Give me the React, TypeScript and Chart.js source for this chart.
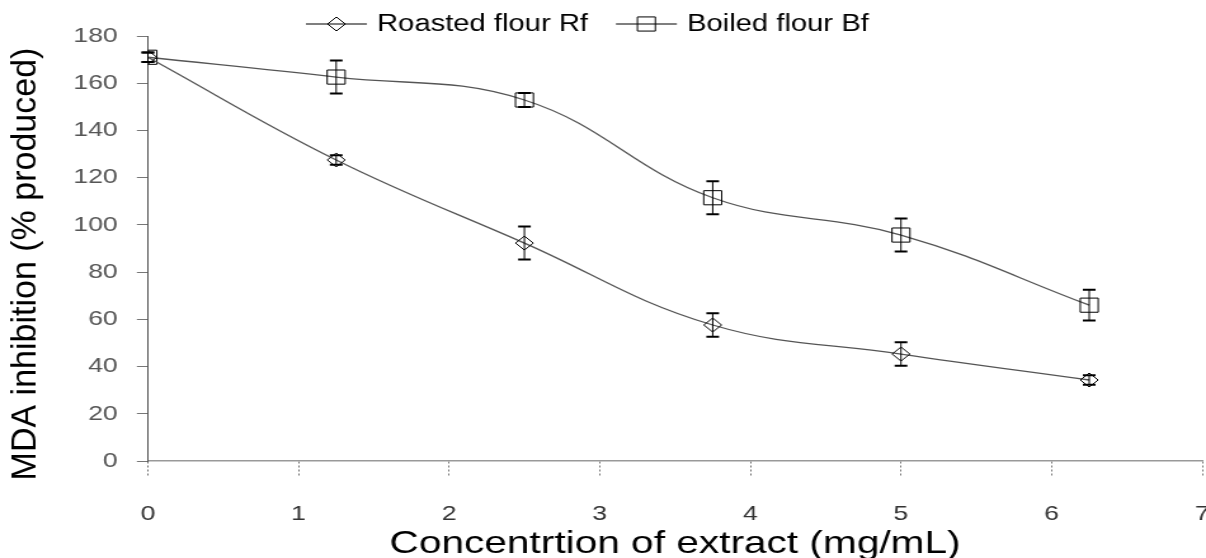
import React, { useEffect, useRef } from 'react';
import { Chart, registerables } from 'chart.js';

Chart.register(...registerables);

// ---- data ----
const concentrations = [0, 1.25, 2.5, 3.75, 5, 6.25];
const roastedFlour = [171, 127.5, 92.3, 57.6, 45.3, 34.3];
const roastedErr = [2, 2, 7, 5, 5, 2];
const boiledFlour = [171, 162.6, 152.9, 111.5, 95.7, 66];
const boiledErr = [2, 7, 3, 7, 7, 6.5];
const seriesNames = ['Roasted flour Rf', 'Boiled flour Bf'];
const seriesMarkers = ['rectRot', 'rect'];
const xTitle = 'Concentrtion of extract (mg/mL)';
const yTitle = 'MDA inhibition (% produced)';
const xRange = [0, 7];
const xStep = 1;
const yRange = [0, 180];
const yStep = 20;

// ---- layout / style ----
const VIEW_W = 1206;
const VIEW_H = 558;
const STRETCH = 1.27;
const CANVAS_W = Math.round(VIEW_W / STRETCH);
const FONT = '"Liberation Sans", Arial, sans-serif';
const LINE_COLOR = '#555555';

function drawMarker(ctx: CanvasRenderingContext2D, style: string, cx: number, cy: number, r: number) {
  ctx.beginPath();
  if (style === 'rectRot') {
    ctx.moveTo(cx - r, cy);
    ctx.lineTo(cx, cy - r);
    ctx.lineTo(cx + r, cy);
    ctx.lineTo(cx, cy + r);
    ctx.closePath();
  } else {
    const s = r * Math.SQRT1_2;
    ctx.rect(cx - s, cy - s, 2 * s, 2 * s);
  }
  ctx.stroke();
}

const errorBarPlugin = {
  id: 'errorBars',
  afterDatasetsDraw(chart: any) {
    const { ctx } = chart;
    const yScale = chart.scales.y;
    ctx.save();
    ctx.strokeStyle = '#000';
    chart.data.datasets.forEach((ds: any, i: number) => {
      const meta = chart.getDatasetMeta(i);
      meta.data.forEach((pt: any, j: number) => {
        const v = ds.data[j].y;
        const e = ds.errors[j];
        const yt = yScale.getPixelForValue(v + e);
        const yb = yScale.getPixelForValue(v - e);
        const x = pt.x;
        ctx.lineWidth = 1;
        ctx.beginPath();
        ctx.moveTo(x, yt);
        ctx.lineTo(x, yb);
        ctx.stroke();
        ctx.lineWidth = 2;
        ctx.beginPath();
        ctx.moveTo(x - 5, yt);
        ctx.lineTo(x + 5, yt);
        ctx.moveTo(x - 5, yb);
        ctx.lineTo(x + 5, yb);
        ctx.stroke();
      });
    });
    ctx.restore();
  },
};

const legendPlugin = {
  id: 'lineLegend',
  afterDraw(chart: any) {
    const { ctx } = chart;
    ctx.save();
    ctx.font = `23px ${FONT}`;
    ctx.textBaseline = 'middle';
    ctx.textAlign = 'left';
    const y = 24;
    let x = 241;
    chart.data.datasets.forEach((ds: any) => {
      ctx.strokeStyle = '#000';
      ctx.lineWidth = 1.2;
      ctx.beginPath();
      ctx.moveTo(x, y);
      ctx.lineTo(x + 48, y);
      ctx.stroke();
      ctx.lineWidth = 1;
      drawMarker(ctx, ds.pointStyle, x + 24, y, ds.pointRadius);
      ctx.fillStyle = '#000';
      ctx.fillText(ds.label, x + 56, y + 1);
      x += 56 + ctx.measureText(ds.label).width + 22;
    });
    ctx.restore();
  },
};

const yTitlePlugin = {
  id: 'yTitleUnstretched',
  afterDraw(chart: any) {
    const { ctx } = chart;
    ctx.save();
    ctx.translate(21, 264);
    ctx.scale(1 / STRETCH, 1);
    ctx.rotate(-Math.PI / 2);
    ctx.font = `34px ${FONT}`;
    ctx.fillStyle = '#000';
    ctx.textAlign = 'center';
    ctx.textBaseline = 'middle';
    ctx.fillText(yTitle, 0, 0);
    ctx.restore();
  },
};

export default function App() {
  const canvasRef = useRef<HTMLCanvasElement | null>(null);

  useEffect(() => {
    const canvas = canvasRef.current;
    if (!canvas) return;
    const series = [
      { values: roastedFlour, errors: roastedErr },
      { values: boiledFlour, errors: boiledErr },
    ];
    const chart = new Chart(canvas, {
      type: 'line',
      data: {
        datasets: series.map((s, i) => ({
          label: seriesNames[i],
          data: concentrations.map((x, j) => ({ x, y: s.values[j] })),
          errors: s.errors,
          borderColor: LINE_COLOR,
          borderWidth: 1.3,
          tension: 0.4,
          fill: false,
          pointStyle: seriesMarkers[i],
          pointRadius: i === 0 ? 7 : 10,
          pointBorderColor: '#000',
          pointBorderWidth: 1,
          pointBackgroundColor: 'rgba(255,255,255,0)',
        })) as any,
      },
      options: {
        animation: false,
        responsive: false,
        devicePixelRatio: 1,
        layout: { autoPadding: false, padding: { top: 36, right: 3, bottom: 0, left: 0 } },
        plugins: {
          legend: { display: false },
          tooltip: { enabled: false },
        },
        scales: {
          x: {
            type: 'linear',
            min: xRange[0],
            max: xRange[1],
            afterFit(scale: any) {
              scale.height = 97;
              scale.paddingRight = 0;
            },
            ticks: {
              stepSize: xStep,
              color: '#333',
              padding: 25,
              font: { family: FONT, size: 21 },
            },
            grid: {
              display: true,
              drawOnChartArea: false,
              drawTicks: true,
              tickLength: 16,
              tickColor: '#777',
              tickBorderDash: [2, 2],
              tickWidth: 1,
            },
            border: { display: true, color: '#999', width: 1.5 },
            title: {
              display: true,
              text: xTitle,
              color: '#000',
              padding: 0,
              font: { family: FONT, size: 32, lineHeight: 0.875 },
            },
          },
          y: {
            type: 'linear',
            min: yRange[0],
            max: yRange[1],
            afterFit(scale: any) {
              scale.width = 116.5;
            },
            ticks: {
              stepSize: yStep,
              color: '#555',
              padding: 15,
              font: { family: FONT, size: 21 },
            },
            grid: {
              display: true,
              drawOnChartArea: false,
              drawTicks: true,
              tickLength: 8.7,
              tickColor: '#777',
              tickWidth: 1,
            },
            border: { display: true, color: '#555', width: 1, dash: [3, 3] },
            title: { display: false },
          },
        },
      } as any,
      plugins: [errorBarPlugin, legendPlugin, yTitlePlugin],
    });
    return () => chart.destroy();
  }, []);

  return (
    <canvas
      ref={canvasRef}
      width={CANVAS_W}
      height={VIEW_H}
      style={{ position: 'absolute', left: 0, top: 0, width: `${VIEW_W}px`, height: `${VIEW_H}px` }}
    />
  );
}
